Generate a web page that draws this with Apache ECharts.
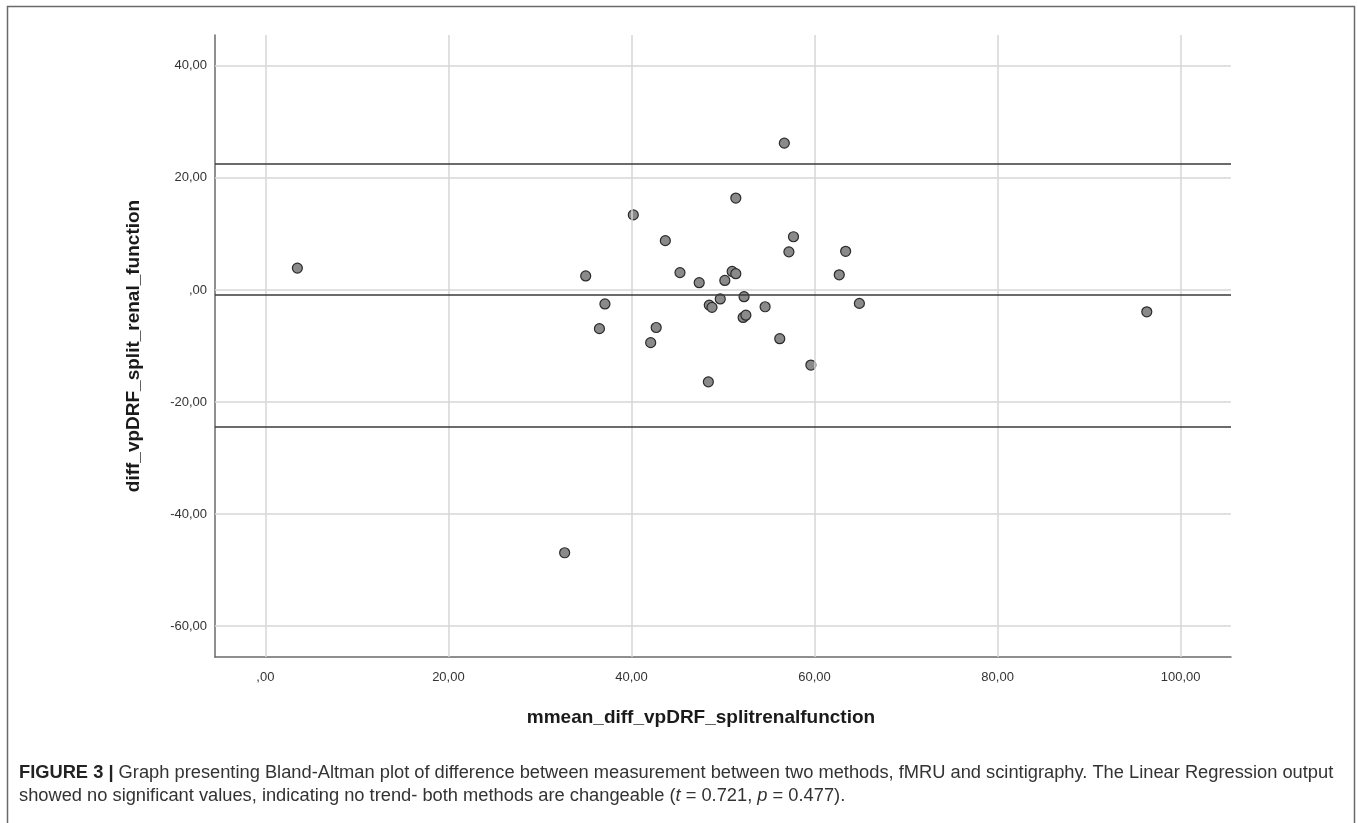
<!DOCTYPE html>
<html>
<head>
<meta charset="utf-8">
<script src="https://cdn.jsdelivr.net/npm/echarts@6/dist/echarts.min.js"></script>
<style>
  html, body { margin: 0; padding: 0; background: #fff; }
  #chart { width: 1358px; height: 823px; }
</style>
</head>
<body>
<div id="chart"></div>
<script>
// ---- data ----
const meanValues = [3.5, 32.7, 35.0, 36.5, 37.1, 40.2, 42.1, 42.7, 43.7, 45.3, 47.4, 48.4, 48.5, 48.8, 49.7, 50.2, 51.0, 51.4, 51.4, 52.2, 52.3, 52.5, 54.6, 56.2, 56.7, 57.2, 57.7, 59.6, 62.7, 63.4, 64.9, 96.3];
const diffValues = [3.9, -46.9, 2.5, -6.9, -2.5, 13.4, -9.4, -6.7, 8.8, 3.1, 1.3, -16.4, -2.7, -3.1, -1.6, 1.7, 3.3, 2.9, 16.4, -4.9, -1.2, -4.5, -3.0, -8.7, 26.2, 6.8, 9.5, -13.4, 2.7, 6.9, -2.4, -3.9];
const referenceLines = [22.6, -0.9, -24.4]; // upper limit, mean difference, lower limit
const xTicks = [0, 20, 40, 60, 80, 100];
const yTicks = [-60, -40, -20, 0, 20, 40];
const xTitle = 'mmean_diff_vpDRF_splitrenalfunction';
const yTitle = 'diff_vpDRF_split_renal_function';
const captionLine1 = 'Graph presenting Bland-Altman plot of difference between measurement between two methods, fMRU and scintigraphy. The Linear Regression output';
const captionLine2a = 'showed no significant values, indicating no trend- both methods are changeable (';
// ---------------------------------------

const fmt = v => (v === 0 ? ',00' : v + ',00');
const points = meanValues.map((x, i) => [x, diffValues[i]]);
const FONT = '"Liberation Sans", Arial, sans-serif';
const CAP_FONT = '"Liberation Sans", Arial, sans-serif';
const CAP_SIZE = 18.3;

const chart = echarts.init(document.getElementById('chart'), null, { renderer: 'canvas' });
chart.setOption({
  backgroundColor: '#ffffff',
  animation: false,
  grid: { left: 215, top: 35, width: 1016, height: 622 },
  xAxis: {
    type: 'value', min: -5.5, max: 105.5, interval: 0.5,
    axisLine: { show: true, onZero: false, lineStyle: { color: '#6a6a6a', width: 1.5 } },
    axisTick: { show: false },
    splitLine: { show: false },
    axisLabel: {
      margin: 14, fontSize: 13, color: '#333', fontFamily: FONT,
      formatter: v => (xTicks.includes(v) ? fmt(v) : '')
    },
    name: xTitle, nameLocation: 'middle', nameGap: 51,
    nameTextStyle: { fontSize: 19, fontWeight: 'bold', color: '#1a1a1a', fontFamily: FONT, padding: [0, 44, 0, 0] }
  },
  yAxis: {
    type: 'value', min: -65.5, max: 45.5, interval: 0.5,
    axisLine: { show: true, onZero: false, lineStyle: { color: '#6a6a6a', width: 1.5 } },
    axisTick: { show: false },
    splitLine: { show: false },
    axisLabel: {
      margin: 8, fontSize: 13, color: '#333', fontFamily: FONT,
      formatter: v => (yTicks.includes(v) ? fmt(v) : '')
    },
    name: yTitle, nameLocation: 'middle', nameGap: 72,
    nameTextStyle: { fontSize: 19, fontWeight: 'bold', color: '#1a1a1a', fontFamily: FONT }
  },
  series: [
    {
      name: 'gridlines', type: 'scatter', data: [], z: 1, silent: true,
      markLine: {
        silent: true, symbol: ['none', 'none'], label: { show: false },
        lineStyle: { color: '#d6d6d6', width: 1.5, type: 'solid' },
        data: xTicks.map(v => ({ xAxis: v })).concat(yTicks.map(v => ({ yAxis: v })))
      }
    },
    {
      name: 'limits', type: 'scatter', data: [], z: 2, silent: true,
      markLine: {
        silent: true, symbol: ['none', 'none'], label: { show: false },
        lineStyle: { color: '#3a3a3a', width: 1.5, type: 'solid' },
        data: referenceLines.map(v => ({ yAxis: v }))
      }
    },
    {
      name: 'points', type: 'scatter', data: points, z: 3,
      symbol: 'circle', symbolSize: 10,
      itemStyle: { color: '#8a8a8a', borderColor: '#2a2a2a', borderWidth: 1.2, opacity: 1 }
    }
  ],
  graphic: [
    {
      type: 'rect', silent: true, z: 0,
      shape: { x: 7.5, y: 6.5, width: 1347, height: 900 },
      style: { fill: 'none', stroke: '#6a6a6a', lineWidth: 1.5 }
    },
    {
      type: 'text', left: 19, top: 764, silent: true,
      style: {
        text: '{b|FIGURE 3 |} ' + captionLine1,
        font: CAP_SIZE + 'px ' + CAP_FONT, fill: '#333',
        rich: { b: { fontWeight: 'bold', fontSize: CAP_SIZE, fontFamily: CAP_FONT, fill: '#222' } }
      }
    },
    {
      type: 'text', left: 19, top: 787, silent: true,
      style: {
        text: captionLine2a + '{i|t} = 0.721, {i|p} = 0.477).',
        font: CAP_SIZE + 'px ' + CAP_FONT, fill: '#333',
        rich: { i: { fontStyle: 'italic', fontSize: CAP_SIZE, fontFamily: CAP_FONT, fill: '#333' } }
      }
    }
  ]
});
</script>
</body>
</html>
